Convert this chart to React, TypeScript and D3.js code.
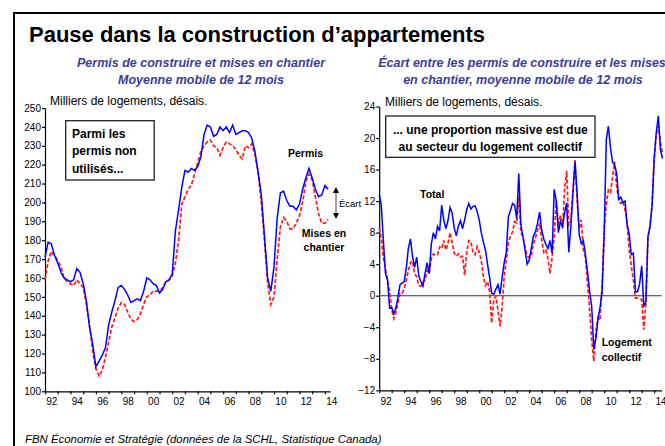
import React, { useRef, useEffect } from "react";
import { axisBottom, axisLeft, line, range, scaleLinear, select } from "d3";

// Permis de construire / mises en chantier, moyenne mobile 12 mois (milliers, désais.), trimestriel
const leftStart = 1992;
const leftStep = 0.25;
const permis = [
  171, 179, 178, 172, 168, 163, 160, 159, 158, 159, 165, 163,
  157, 148, 134, 125, 113, 116, 119, 123, 135, 142, 148, 155,
  156, 154, 151, 147, 148, 149, 148, 153, 160, 159, 157, 156,
  152, 154, 158, 159, 162, 185, 196, 208, 217, 216, 218, 217,
  219, 224, 236, 241, 240, 235, 236, 240, 238, 240, 237, 241,
  236, 237, 238, 238, 237, 234, 227, 216, 204, 182, 160, 153,
  166, 192, 205, 206, 201, 198, 198, 196, 199, 207, 213, 218,
  213, 207, 203, 204, 209, 207,
];
const mises = [
  159, 169, 174, 172, 169, 166, 160, 158, 157, 156, 159, 157,
  155, 146, 135, 121, 112, 108, 111, 118, 126, 134, 139, 144,
  147, 146, 142, 138, 137, 138, 141, 146, 150, 151, 153, 153,
  153, 155, 158, 159, 161, 168, 180, 199, 203, 207, 209, 215,
  221, 227, 230, 232, 233, 230, 229, 225, 229, 232, 231, 230,
  228, 225, 223, 230, 229, 231, 225, 216, 200, 180, 157, 146,
  150, 170, 187, 192, 190, 186, 186, 189, 193, 200, 211, 215,
  212, 203, 194, 189, 189, 191,
];

// Écart permis - mises en chantier (milliers), tous les deux mois
const rightStart = 1992;
const rightStep = 1 / 6;
const total = [
  12.8, 11.5, 7.0, 2.8, 2.0, -1.6,
  -1.5, -2.3, -1.6, -0.2, 1.4, 1.6,
  1.8, 3.5, 6.0, 7.2, 5.0, 3.6,
  4.9, 2.5, 1.8, 1.2, 2.8, 4.2,
  2.8, 6.5, 8.0, 7.2, 8.8, 8.2,
  11.5, 9.6, 8.5, 9.5, 11.2, 10.5,
  8.6, 7.6, 8.8, 9.5, 8.5, 9.6,
  10.9, 11.7, 11.0, 11.3, 11.4, 10.7,
  9.6, 8.0, 6.8, 5.8, 4.0, 2.3,
  0.3, 0.2, 0.8, 1.4, 0.2, 2.3,
  4.2, 5.5, 10.0, 10.8, 11.7, 11.5,
  9.8, 15.5, 9.0, 7.5, 5.8, 4.0,
  4.5, 6.0, 7.5, 8.1, 9.2, 10.6,
  8.3, 7.2, 6.5, 6.0, 7.0, 5.4,
  13.5, 12.0, 8.0, 9.4, 8.8, 10.5,
  11.8, 5.5, 8.8, 13.0, 17.0, 13.0,
  7.8, 6.6, 7.0, 5.2, 3.0, 0.6,
  -1.4, -6.8, -5.4, -3.0, -1.5, 0.5,
  7.9, 19.8, 21.5, 18.8, 16.9, 16.6,
  15.5, 12.2, 12.5, 11.8, 12.0, 9.0,
  7.8, 5.2, 5.4, 0.5, 0.5, 1.5,
  3.8, -1.3, -0.8, 7.5, 8.8, 11.5,
  17.5, 20.7, 22.8, 18.5, 17.4,
];
const collectif = [
  8.6, 7.3, 4.8, 3.5, 2.0, 0.5,
  -1.8, -2.9, -2.2, -0.9, 0.3, 0.3,
  0.9, 2.0, 3.2, 4.2, 4.4, 2.8,
  2.4, 1.3, 1.2, 1.7, 2.0, 3.2,
  2.8, 4.7, 5.3, 5.1, 5.2, 6.2,
  6.0, 7.0, 5.8, 6.6, 8.0, 6.8,
  5.4, 5.0, 5.3, 4.9, 5.0, 2.6,
  5.5, 7.0, 6.8, 5.6, 5.2, 6.2,
  5.5, 4.5, 2.4, 1.3, 1.8, 0.5,
  -3.5, -0.5, -0.1, -1.8, -3.9, -1.5,
  2.4, 4.5, 6.8, 7.5, 8.1, 9.4,
  9.2, 12.5, 8.0, 7.5, 6.2, 5.1,
  4.8, 5.0, 6.6, 7.3, 8.3, 9.2,
  7.1, 5.5, 5.8, 4.7, 2.8, 4.9,
  7.5, 12.0, 9.0, 10.2, 8.5, 13.6,
  15.8, 9.0, 9.5, 13.5, 17.2, 12.0,
  8.5, 9.6, 5.8, 4.8, 1.5, -1.8,
  -5.6, -8.3, -4.5, -2.8, -3.1, 1.5,
  8.5, 11.6, 13.4, 13.1, 15.0, 17.0,
  13.8, 12.0, 11.7, 12.0, 10.9, 9.2,
  5.8, 3.8, 2.0, -0.3, -0.3, -0.4,
  -0.5, -4.3, -1.0, 7.3, 8.9, 11.5,
  17.2, 20.5, 21.5, 19.5, 18.0,
];

const years = range(1992, 2015);
const labelYears = range(1992, 2015, 2);
const leftYTicks = range(100, 251, 10);
const rightYTicks = range(-12, 25, 4);

const FONT = "'Liberation Sans', Arial, sans-serif";
const NARROW = "'Liberation Sans Narrow', 'Arial Narrow', sans-serif";
const SUB = "#3d3d99";

// left panel scales
const xL = scaleLinear().domain([1992, 2014.4]).range([45, 330]);
const yL = scaleLinear().domain([100, 250]).range([391.3, 108]);
// right panel scales
const xR = scaleLinear().domain([1992, 2014.6]).range([379.2, 661.7]);
const yR = scaleLinear().domain([-12, 24]).range([390.3, 106.5]);

function drawAxes(g, x, y, yTicks, labelPad) {
  g.selectAll("*").remove();
  const yAxis = g
    .append("g")
    .attr("transform", `translate(${x.range()[0]},0)`)
    .call(axisLeft(y).tickValues(yTicks).tickSize(3).tickSizeOuter(0).tickPadding(1));
  const xTicks = g
    .append("g")
    .attr("transform", `translate(0,${y.range()[0]})`)
    .call(axisBottom(x).tickValues(years).tickSize(3).tickSizeOuter(0).tickFormat(() => ""));
  const xLabels = g
    .append("g")
    .attr("transform", `translate(0,${y.range()[0]})`)
    .call(
      axisBottom(x)
        .tickValues(labelYears.map((d) => d + 0.5))
        .tickSize(0)
        .tickPadding(labelPad)
        .tickFormat((d) => String(Math.floor(d)).slice(2))
    );
  xLabels.select(".domain").remove();
  [yAxis, xTicks, xLabels].forEach((a) => {
    a.attr("font-family", NARROW).attr("font-size", 10);
    a.selectAll("path,line").attr("stroke", "#000").attr("stroke-width", 1.2);
    a.selectAll("text").attr("fill", "#000");
  });
}

function App() {
  const leftRef = useRef(null);
  const rightRef = useRef(null);

  useEffect(() => {
    drawAxes(select(leftRef.current), xL, yL, leftYTicks, 7);
    drawAxes(select(rightRef.current), xR, yR, rightYTicks, 8);
  }, []);

  const lineL = line()
    .x((d, i) => xL(leftStart + i * leftStep))
    .y((d) => yL(d));
  const lineR = line()
    .x((d, i) => xR(rightStart + i * rightStep))
    .y((d) => yR(d));

  return (
    <svg
      width={665}
      height={446}
      style={{ position: "fixed", left: 0, top: 0, background: "#fff" }}
      fontFamily={FONT}
    >
      <rect x={14} y={13} width={700} height={480} fill="#fff" stroke="#000" strokeWidth={2} />

      <text x={29} y={42} fontSize={22} fontWeight="bold" fill="#000">
        Pause dans la construction d’appartements
      </text>

      {/* panel headings */}
      <g fontSize={12.5} fontWeight="bold" fontStyle="italic" fill={SUB} textAnchor="middle">
        <text x={201} y={66.5}>Permis de construire et mises en chantier</text>
        <text x={201} y={84}>Moyenne mobile de 12 mois</text>
        <text x={522} y={66.5}>Écart entre les permis de construire et les mises</text>
        <text x={523} y={84}>en chantier,  moyenne mobile de 12 mois</text>
      </g>
      <text x={50} y={105} fontSize={12} fill="#000">Milliers de logements, désais.</text>
      <text x={385} y={106} fontSize={12} fill="#000">Milliers de logements, désais.</text>

      {/* left panel */}
      <g ref={leftRef} />
      <path d={lineL(mises)} fill="none" stroke="#ff1a1a" strokeWidth={1.7} strokeDasharray="4 2" />
      <path d={lineL(permis)} fill="none" stroke="#0000ff" strokeWidth={1.5} />

      <rect x={65.7} y={120.7} width={88.5} height={59.3} fill="#fff" stroke="#222" strokeWidth={1.3} />
      <g fontSize={12} fontWeight="bold" fill="#000">
        <text x={72} y={137.5}>Parmi les</text>
        <text x={72} y={155}>permis non</text>
        <text x={72} y={172.5}>utilisés...</text>
      </g>
      <g fontSize={10.5} fontWeight="bold" fill="#000">
        <text x={288} y={157}>Permis</text>
        <text x={324} y={237} textAnchor="middle">Mises en</text>
        <text x={324} y={251} textAnchor="middle">chantier</text>
      </g>
      <line x1={336} y1={192} x2={336} y2={214} stroke="#444" strokeWidth={1} />
      <path d="M333,193 L336,187 L339,193 Z" fill="#000" />
      <path d="M333,213 L336,219 L339,213 Z" fill="#000" />
      <text x={339} y={207} fontSize={9.5} fontFamily={NARROW} fill="#000">Écart</text>

      {/* right panel */}
      <g ref={rightRef} />
      <line x1={xR(1992)} x2={xR(2014.6)} y1={yR(0)} y2={yR(0)} stroke="#333" strokeWidth={1.1} />
      <path d={lineR(collectif)} fill="none" stroke="#ff1a1a" strokeWidth={1.7} strokeDasharray="4 2" />
      <path d={lineR(total)} fill="none" stroke="#0000ff" strokeWidth={1.5} />

      <rect x={385.7} y={116} width={209.3} height={41.3} fill="#fff" stroke="#222" strokeWidth={1.3} />
      <g fontSize={12} fontWeight="bold" fill="#000" textAnchor="middle">
        <text x={490.3} y={134}>... une proportion massive est due</text>
        <text x={490.3} y={150.5}>au secteur du logement collectif</text>
      </g>
      <g fontSize={10.5} fontWeight="bold" fill="#000">
        <text x={420} y={197.5}>Total</text>
        <text x={601.7} y={346}>Logement</text>
        <text x={601.7} y={361}>collectif</text>
      </g>

      <text x={25} y={443} fontSize={11.4} fontStyle="italic" fill="#000">
        FBN Économie et Stratégie (données de la SCHL, Statistique Canada)
      </text>
    </svg>
  );
}

export default App;
